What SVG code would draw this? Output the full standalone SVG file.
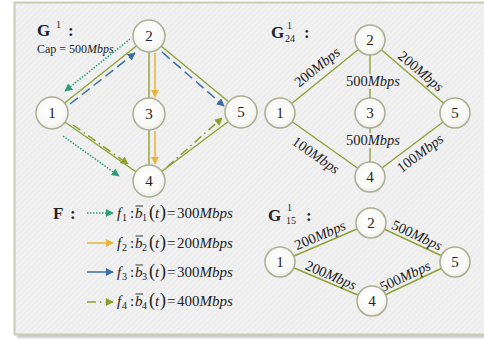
<svg xmlns="http://www.w3.org/2000/svg" width="484" height="341" viewBox="0 0 484 341">
  <defs>
    <pattern id="hatch" width="4" height="4" patternUnits="userSpaceOnUse" patternTransform="rotate(45)">
      <rect width="4" height="4" fill="#ececec"/>
      <rect width="1.6" height="4" fill="#f4f4f4"/>
    </pattern>
    <radialGradient id="nodeFill" cx="45%" cy="40%" r="65%">
      <stop offset="0" stop-color="#ffffff"/>
      <stop offset="0.7" stop-color="#f8f8f6"/>
      <stop offset="1" stop-color="#e6e6e0"/>
    </radialGradient>
    <filter id="soft" x="-5%" y="-5%" width="110%" height="110%">
      <feGaussianBlur stdDeviation="1.2"/>
    </filter>
    <marker id="arTeal" viewBox="0 0 10 10" refX="9" refY="5" markerWidth="8" markerHeight="8" markerUnits="userSpaceOnUse" orient="auto">
      <path d="M0,0 L10,5 L0,10 z" fill="#2e9e78"/>
    </marker>
    <marker id="arGold" viewBox="0 0 10 10" refX="9" refY="5" markerWidth="8" markerHeight="8" markerUnits="userSpaceOnUse" orient="auto">
      <path d="M0,0 L10,5 L0,10 z" fill="#e9b43a"/>
    </marker>
    <marker id="arBlue" viewBox="0 0 10 10" refX="9" refY="5" markerWidth="8" markerHeight="8" markerUnits="userSpaceOnUse" orient="auto">
      <path d="M0,0 L10,5 L0,10 z" fill="#3b6fa8"/>
    </marker>
    <marker id="arOlive" viewBox="0 0 10 10" refX="9" refY="5" markerWidth="8" markerHeight="8" markerUnits="userSpaceOnUse" orient="auto">
      <path d="M0,0 L10,5 L0,10 z" fill="#8aa02a"/>
    </marker>
  </defs>
  <style>
    .edge { stroke: #8fa235; stroke-width: 1.4; fill: none; }
    .f1 { stroke: #2e9e78; stroke-width: 1.5; stroke-dasharray: 1.5 1.5; fill: none; marker-end: url(#arTeal); }
    .f2 { stroke: #e9b43a; stroke-width: 1.5; fill: none; marker-end: url(#arGold); }
    .f3 { stroke: #3b6fa8; stroke-width: 1.5; stroke-dasharray: 10 5; fill: none; marker-end: url(#arBlue); }
    .f3s { stroke: #3b6fa8; stroke-width: 1.5; fill: none; marker-end: url(#arBlue); }
    .f4 { stroke: #8aa02a; stroke-width: 1.5; stroke-dasharray: 9 4 1.5 4; fill: none; marker-end: url(#arOlive); }
    .node circle { fill: url(#nodeFill); stroke: #a9ae90; stroke-width: 1.5; }
    .node text { font-family: "Liberation Serif", serif; font-size: 15px; fill: #222; text-anchor: middle; }
    .lbl { font-family: "Liberation Serif", serif; font-size: 14.5px; fill: #222; text-anchor: middle; }
    .title { font-family: "Liberation Serif", serif; font-weight: bold; font-size: 17px; fill: #222; }
    .sup { font-family: "Liberation Serif", serif; font-size: 10px; fill: #222; }
    .fx { font-family: "Liberation Serif", serif; font-size: 15px; fill: #222; }
    .cap { font-family: "Liberation Serif", serif; font-size: 12px; fill: #222; }
    .it { font-style: italic; }
    .ol { stroke: #222; stroke-width: 0.9; }
  </style>

  <!-- panel with drop shadow -->
  <rect x="17" y="5" width="480" height="333" fill="#c9c9c9" filter="url(#soft)"/>
  <rect x="14.5" y="2.5" width="480" height="332" fill="url(#hatch)" stroke="#c6cbb1" stroke-width="2"/>

  <!-- titles -->
  <g id="title-g1">
    <text class="title" x="37" y="36">G</text>
    <text class="sup" x="56" y="28">1</text>
    <text class="title" x="68" y="36">:</text>
    <text class="cap" x="37" y="53">Cap = 500<tspan class="it">Mbps</tspan></text>
  </g>
  <g id="title-g24">
    <text class="title" x="271" y="38">G</text>
    <text class="sup" x="287" y="29">1</text>
    <text class="sup" x="285" y="42">24</text>
    <text class="title" x="304" y="38">:</text>
  </g>
  <g id="title-g15">
    <text class="title" x="268" y="221">G</text>
    <text class="sup" x="287" y="211">1</text>
    <text class="sup" x="286" y="224">15</text>
    <text class="title" x="306" y="221">:</text>
  </g>

  <!-- connectors -->
  <g id="connectors">
    <!-- G1 links -->
    <line class="edge" x1="52" y1="113" x2="149" y2="36"/>
    <line class="edge" x1="149" y1="36" x2="149" y2="114"/>
    <line class="edge" x1="149" y1="114" x2="149" y2="181"/>
    <line class="edge" x1="52" y1="113" x2="149" y2="181"/>
    <line class="edge" x1="149" y1="36" x2="241" y2="112"/>
    <line class="edge" x1="149" y1="181" x2="241" y2="112"/>
    <!-- G1 flows -->
    <line class="f1" x1="130" y1="39" x2="65" y2="91"/>
    <line class="f1" x1="63" y1="136" x2="119" y2="176"/>
    <line class="f2" x1="155" y1="53" x2="155" y2="97"/>
    <line class="f2" x1="155" y1="131" x2="155" y2="164"/>
    <line class="f3" x1="70" y1="104" x2="135" y2="53"/>
    <line class="f3" x1="162" y1="52" x2="224" y2="106"/>
    <line class="f4" x1="73" y1="125" x2="128" y2="164"/>
    <line class="f4" x1="167" y1="167" x2="222" y2="118"/>

    <!-- G24 links -->
    <line class="edge" x1="280" y1="113" x2="370" y2="40"/>
    <line class="edge" x1="370" y1="40" x2="455" y2="113"/>
    <line class="edge" x1="370" y1="40" x2="370" y2="177"/>
    <line class="edge" x1="280" y1="113" x2="370" y2="177"/>
    <line class="edge" x1="370" y1="177" x2="455" y2="113"/>

    <!-- G15 links -->
    <line class="edge" x1="280" y1="262" x2="371" y2="223"/>
    <line class="edge" x1="371" y1="223" x2="455" y2="262"/>
    <line class="edge" x1="280" y1="262" x2="372" y2="301"/>
    <line class="edge" x1="372" y1="301" x2="455" y2="262"/>

    <!-- legend samples -->
    <line class="f1" x1="87" y1="213" x2="113" y2="213"/>
    <line class="f2" x1="87" y1="243" x2="113" y2="243"/>
    <line class="f3s" x1="87" y1="272" x2="113" y2="272"/>
    <line class="f4" x1="87" y1="302" x2="113" y2="302" stroke-dasharray="7 5 1.5 4"/>
  </g>

  <!-- link capacity labels -->
  <g id="labels-g24">
    <text class="lbl" transform="translate(317,67) rotate(-39)" y="5">200<tspan class="it">Mbps</tspan></text>
    <text class="lbl" transform="translate(421,71) rotate(40)" y="5">200<tspan class="it">Mbps</tspan></text>
    <rect x="346" y="74" width="54" height="15" fill="url(#hatch)"/>
    <text class="lbl" x="373" y="86">500<tspan class="it">Mbps</tspan></text>
    <rect x="346" y="133" width="54" height="15" fill="url(#hatch)"/>
    <text class="lbl" x="373" y="145">500<tspan class="it">Mbps</tspan></text>
    <text class="lbl" transform="translate(316,155) rotate(35)" y="5">100<tspan class="it">Mbps</tspan></text>
    <text class="lbl" transform="translate(420,153) rotate(-37)" y="5">100<tspan class="it">Mbps</tspan></text>
  </g>
  <g id="labels-g15">
    <text class="lbl" transform="translate(320,235) rotate(-23)" y="5">200<tspan class="it">Mbps</tspan></text>
    <text class="lbl" transform="translate(417,235) rotate(25)" y="5">500<tspan class="it">Mbps</tspan></text>
    <text class="lbl" transform="translate(331,275) rotate(23)" y="5">200<tspan class="it">Mbps</tspan></text>
    <text class="lbl" transform="translate(405,276) rotate(-25)" y="5">500<tspan class="it">Mbps</tspan></text>
  </g>

  <!-- G1 nodes -->
  <g id="g1-n1" class="node"><circle cx="52" cy="113" r="16"/><text x="52" y="118">1</text></g>
  <g id="g1-n2" class="node"><circle cx="149" cy="36" r="16"/><text x="149" y="41">2</text></g>
  <g id="g1-n3" class="node"><circle cx="149" cy="114" r="16"/><text x="149" y="119">3</text></g>
  <g id="g1-n4" class="node"><circle cx="149" cy="181" r="16"/><text x="149" y="186">4</text></g>
  <g id="g1-n5" class="node"><circle cx="241" cy="112" r="16"/><text x="241" y="117">5</text></g>

  <!-- G24 nodes -->
  <g id="g24-n1" class="node"><circle cx="280" cy="113" r="15"/><text x="280" y="118">1</text></g>
  <g id="g24-n2" class="node"><circle cx="370" cy="40" r="15"/><text x="370" y="45">2</text></g>
  <g id="g24-n3" class="node"><circle cx="370" cy="113" r="15"/><text x="370" y="118">3</text></g>
  <g id="g24-n4" class="node"><circle cx="370" cy="177" r="15"/><text x="370" y="182">4</text></g>
  <g id="g24-n5" class="node"><circle cx="455" cy="113" r="15"/><text x="455" y="118">5</text></g>

  <!-- G15 nodes -->
  <g id="g15-n1" class="node"><circle cx="280" cy="262" r="15"/><text x="280" y="267">1</text></g>
  <g id="g15-n2" class="node"><circle cx="371" cy="223" r="15"/><text x="371" y="228">2</text></g>
  <g id="g15-n4" class="node"><circle cx="372" cy="301" r="15"/><text x="372" y="306">4</text></g>
  <g id="g15-n5" class="node"><circle cx="455" cy="262" r="15"/><text x="455" y="267">5</text></g>

  <!-- flow legend -->
  <g id="legend">
    <text class="title" x="53" y="219">F</text>
    <text class="title" x="70" y="219">:</text>

    <g id="flow1">
      <text class="fx" y="218"><tspan class="it" x="117">f</tspan><tspan x="122" dy="3" font-size="10">1</tspan><tspan x="130" dy="-3">:</tspan><tspan class="it" x="135">b</tspan><tspan x="142" dy="3" font-size="10">1</tspan><tspan x="149" dy="-3" font-size="18">(</tspan><tspan class="it" x="155">t</tspan><tspan x="160" font-size="18">)</tspan><tspan x="167">=</tspan><tspan x="177">300</tspan><tspan class="it">Mbps</tspan></text>
      <line class="ol" x1="135.5" y1="206" x2="143" y2="206"/>
    </g>
    <g id="flow2">
      <text class="fx" y="248"><tspan class="it" x="117">f</tspan><tspan x="122" dy="3" font-size="10">2</tspan><tspan x="130" dy="-3">:</tspan><tspan class="it" x="135">b</tspan><tspan x="142" dy="3" font-size="10">2</tspan><tspan x="149" dy="-3" font-size="18">(</tspan><tspan class="it" x="155">t</tspan><tspan x="160" font-size="18">)</tspan><tspan x="167">=</tspan><tspan x="177">200</tspan><tspan class="it">Mbps</tspan></text>
      <line class="ol" x1="135.5" y1="236" x2="143" y2="236"/>
    </g>
    <g id="flow3">
      <text class="fx" y="277"><tspan class="it" x="117">f</tspan><tspan x="122" dy="3" font-size="10">3</tspan><tspan x="130" dy="-3">:</tspan><tspan class="it" x="135">b</tspan><tspan x="142" dy="3" font-size="10">3</tspan><tspan x="149" dy="-3" font-size="18">(</tspan><tspan class="it" x="155">t</tspan><tspan x="160" font-size="18">)</tspan><tspan x="167">=</tspan><tspan x="177">300</tspan><tspan class="it">Mbps</tspan></text>
      <line class="ol" x1="135.5" y1="265" x2="143" y2="265"/>
    </g>
    <g id="flow4">
      <text class="fx" y="306"><tspan class="it" x="117">f</tspan><tspan x="122" dy="3" font-size="10">4</tspan><tspan x="130" dy="-3">:</tspan><tspan class="it" x="135">b</tspan><tspan x="142" dy="3" font-size="10">4</tspan><tspan x="149" dy="-3" font-size="18">(</tspan><tspan class="it" x="155">t</tspan><tspan x="160" font-size="18">)</tspan><tspan x="167">=</tspan><tspan x="177">400</tspan><tspan class="it">Mbps</tspan></text>
      <line class="ol" x1="135.5" y1="294" x2="143" y2="294"/>
    </g>
  </g>
</svg>
